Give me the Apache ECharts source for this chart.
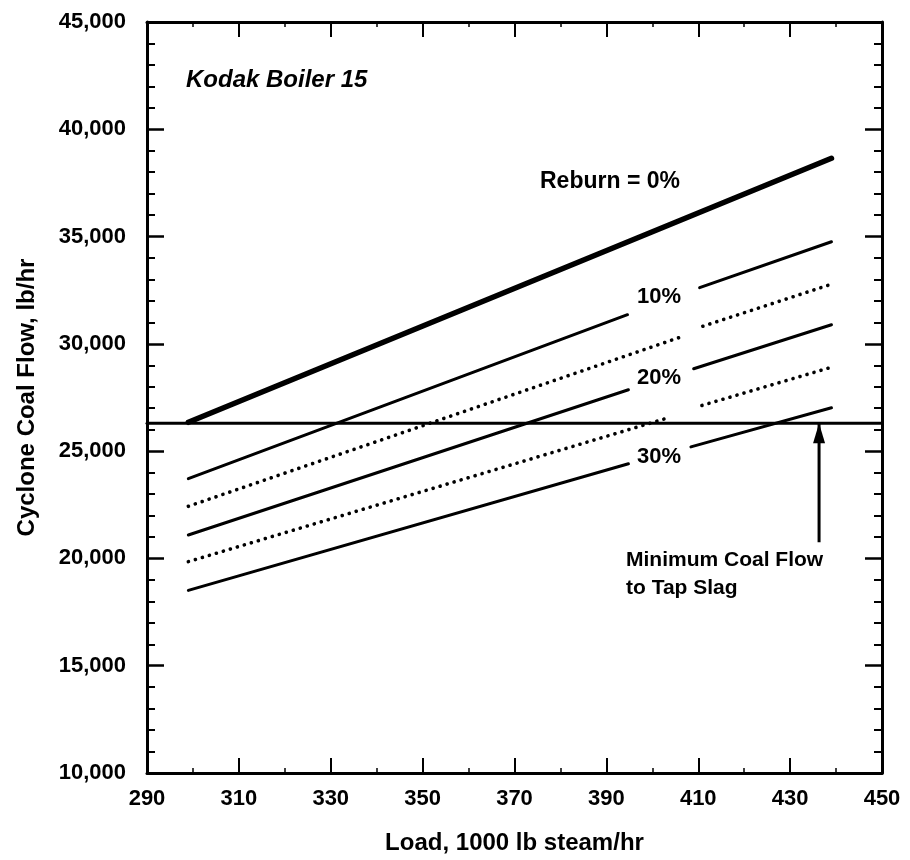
<!DOCTYPE html>
<html>
<head>
<meta charset="utf-8">
<script src="https://cdn.jsdelivr.net/npm/echarts@6/dist/echarts.min.js"></script>
<style>
html,body{margin:0;padding:0;background:#fff;}
#c{width:910px;height:860px;}
</style>
</head>
<body>
<div id="c"></div>
<script>
// ---- data ----
const xMin = 290, xMax = 450, xStep = 20;
const yMin = 10000, yMax = 45000, yStep = 5000;

const reburn0 = [[299, 26345], [439, 38650]];
const reburn10Left = [[299, 23720], [394.6, 31360]];
const reburn10Right = [[410.3, 32620], [439, 34760]];
const reburn15Left = [[299, 22430], [406.2, 30320]];
const reburn15Right = [[411, 30820], [439, 32780]];
const reburn20Left = [[299, 21090], [394.8, 27860]];
const reburn20Right = [[409, 28840], [439, 30890]];
const reburn25Left = [[299, 19850], [403.4, 26550]];
const reburn25Right = [[410.8, 27130], [439, 28910]];
const reburn30Left = [[299, 18510], [394.8, 24410]];
const reburn30Right = [[408.4, 25200], [439, 27020]];

const minCoalFlow = 26300;
const minLineLoads = [290, 450];
const arrowLoad = 436.3;
const arrowBase = 20750;

const titleText = 'Kodak Boiler 15';
const xName = 'Load, 1000 lb steam/hr';
const yName = 'Cyclone Coal Flow, lb/hr';
const curveLabels = ['Reburn = 0%', '10%', '20%', '30%'];
const noteLines = ['Minimum Coal Flow', 'to Tap Slag'];

// ---- chart ----
const FONT = '"Liberation Sans", Arial, Helvetica, sans-serif';
const chart = echarts.init(document.getElementById('c'));

function solid(data, w) {
  return {
    type: 'line', data: data, symbol: 'none', silent: true, animation: false,
    lineStyle: { color: '#000', width: w || 3, cap: 'round' }
  };
}
function dotted(data) {
  return {
    type: 'line', data: data, symbol: 'none', silent: true, animation: false,
    lineStyle: { color: '#000', width: 3.6, type: [0.1, 7.2], cap: 'round' }
  };
}

function xAxisDef(pos, showLabel) {
  return {
    type: 'value', position: pos, min: xMin, max: xMax, interval: xStep,
    axisLine: { show: true, onZero: false, lineStyle: { color: '#000', width: 3 } },
    axisTick: { show: true, inside: true, length: 15, lineStyle: { color: '#000', width: 2 } },
    minorTick: { show: true, splitNumber: 2, length: 5, lineStyle: { color: '#000', width: 1.5 } },
    splitLine: { show: false }, minorSplitLine: { show: false },
    axisLabel: { show: showLabel, color: '#000', fontFamily: FONT, fontWeight: 'bold', fontSize: 22, margin: 15 },
    name: showLabel ? xName : '', nameLocation: 'middle', nameGap: 58,
    nameTextStyle: { color: '#000', fontFamily: FONT, fontWeight: 'bold', fontSize: 24 }
  };
}
function yAxisDef(pos, showLabel) {
  return {
    type: 'value', position: pos, min: yMin, max: yMax, interval: yStep,
    axisLine: { show: true, onZero: false, lineStyle: { color: '#000', width: 3 } },
    axisTick: { show: true, inside: true, length: 17, lineStyle: { color: '#000', width: 2.5 } },
    minorTick: { show: true, splitNumber: 5, length: 8, lineStyle: { color: '#000', width: 2 } },
    splitLine: { show: false }, minorSplitLine: { show: false },
    axisLabel: {
      show: showLabel, color: '#000', fontFamily: FONT, fontWeight: 'bold', fontSize: 22, margin: 21,
      formatter: v => v.toLocaleString('en-US')
    },
    name: showLabel ? yName : '', nameLocation: 'middle', nameGap: 108, nameRotate: 90,
    nameTextStyle: { color: '#000', fontFamily: FONT, fontWeight: 'bold', fontSize: 24 }
  };
}

function txt(t, x, y, size, italic) {
  return {
    type: 'text', x: x, y: y, silent: true,
    style: {
      text: t, fill: '#000', verticalAlign: 'middle', align: 'left',
      font: (italic ? 'italic ' : '') + 'bold ' + size + 'px ' + FONT
    }
  };
}

const option = {
  backgroundColor: '#fff',
  animation: false,
  grid: { left: 147, right: 28, top: 22, bottom: 87 },
  xAxis: [xAxisDef('bottom', true), xAxisDef('top', false)],
  yAxis: [yAxisDef('left', true), yAxisDef('right', false)],
  series: [
    solid(reburn0, 5.5),
    solid(reburn10Left), solid(reburn10Right),
    dotted(reburn15Left), dotted(reburn15Right),
    solid(reburn20Left), solid(reburn20Right),
    dotted(reburn25Left), dotted(reburn25Right),
    solid(reburn30Left), solid(reburn30Right),
    solid(minLineLoads.map(x => [x, minCoalFlow]), 3),
    {
      type: 'line', silent: true, animation: false,
      lineStyle: { color: '#000', width: 3 },
      itemStyle: { color: '#000' },
      data: [
        { value: [arrowLoad, arrowBase], symbol: 'none' },
        { value: [arrowLoad, minCoalFlow], symbol: 'triangle', symbolSize: [12, 20], symbolOffset: [0, '50%'] }
      ]
    }
  ],
  graphic: [
    txt(titleText, 186, 80, 24, true),
    txt(curveLabels[0], 540, 182, 23),
    txt(curveLabels[1], 637, 297, 22),
    txt(curveLabels[2], 637, 378, 22),
    txt(curveLabels[3], 637, 457, 22),
    txt(noteLines[0], 626, 560, 21),
    txt(noteLines[1], 626, 588, 21)
  ]
};
chart.setOption(option);
</script>
</body>
</html>
